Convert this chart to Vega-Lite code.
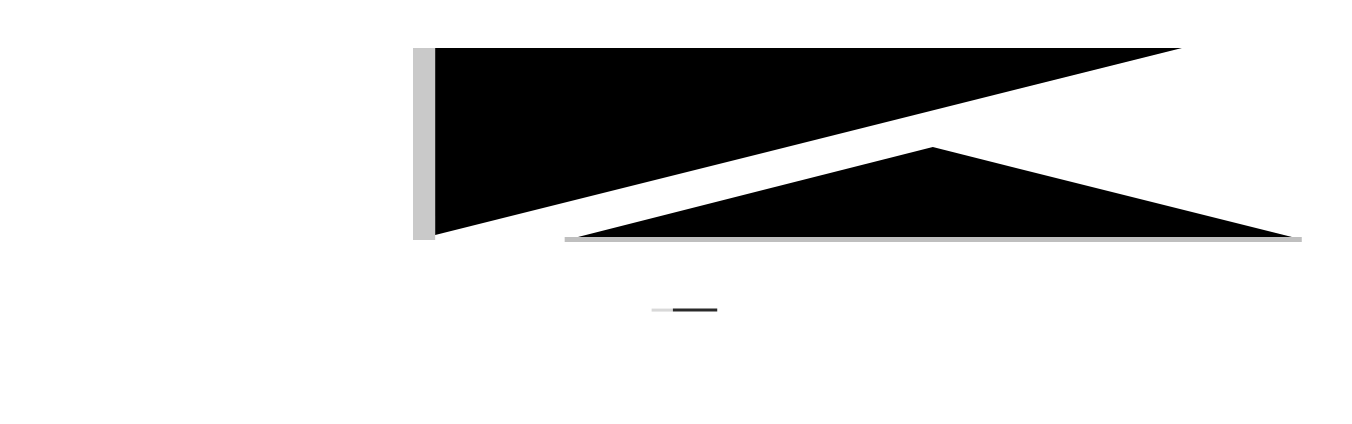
{
  "$schema": "https://vega.github.io/schema/vega-lite/v6.json",
  "width": 887,
  "height": 192,
  "autosize": {"type": "none"},
  "padding": {"left": 413, "right": 52, "top": 48, "bottom": 184},
  "background": "white",
  "config": {"view": {"stroke": null}},
  "datasets": {
    "upper": [
      {"x": 2.5, "lo": 2.6, "hi": 100},
      {"x": 86.7, "lo": 100, "hi": 100}
    ],
    "lower": [
      {"x": 18.6, "y": 1.56, "base": 1.56},
      {"x": 58.6, "y": 48.4, "base": 1.56},
      {"x": 99.1, "y": 1.56, "base": 1.56}
    ],
    "strips": [
      {"x": 0, "x2": 2.5, "y": 0, "y2": 100, "c": "#c9c9c9"},
      {"x": 17.1, "x2": 100.2, "y": -1, "y2": 1.56, "c": "#bfbfbf"}
    ],
    "key": [
      {"x": 26.9, "x2": 29.3, "y": -36.5, "c": "#d8d8d8"},
      {"x": 29.3, "x2": 34.3, "y": -36.5, "c": "#2a2a2a"}
    ]
  },
  "layer": [
    {
      "data": {"name": "strips"},
      "mark": {"type": "rect"},
      "encoding": {
        "x": {"field": "x", "type": "quantitative", "scale": {"domain": [0, 100], "nice": false, "zero": false}, "axis": null},
        "x2": {"field": "x2"},
        "y": {"field": "y", "type": "quantitative", "scale": {"domain": [0, 100], "nice": false, "zero": false}, "axis": null},
        "y2": {"field": "y2"},
        "color": {"field": "c", "type": "nominal", "scale": null, "legend": null}
      }
    },
    {
      "data": {"name": "upper"},
      "mark": {"type": "area", "color": "black"},
      "encoding": {
        "x": {"field": "x", "type": "quantitative"},
        "y": {"field": "lo", "type": "quantitative"},
        "y2": {"field": "hi"}
      }
    },
    {
      "data": {"name": "lower"},
      "mark": {"type": "area", "color": "black"},
      "encoding": {
        "x": {"field": "x", "type": "quantitative"},
        "y": {"field": "y", "type": "quantitative"},
        "y2": {"field": "base"}
      }
    },
    {
      "data": {"name": "key"},
      "mark": {"type": "rule", "strokeWidth": 3},
      "encoding": {
        "x": {"field": "x", "type": "quantitative"},
        "x2": {"field": "x2"},
        "y": {"field": "y", "type": "quantitative"},
        "color": {"field": "c", "type": "nominal", "scale": null, "legend": null}
      }
    }
  ]
}
